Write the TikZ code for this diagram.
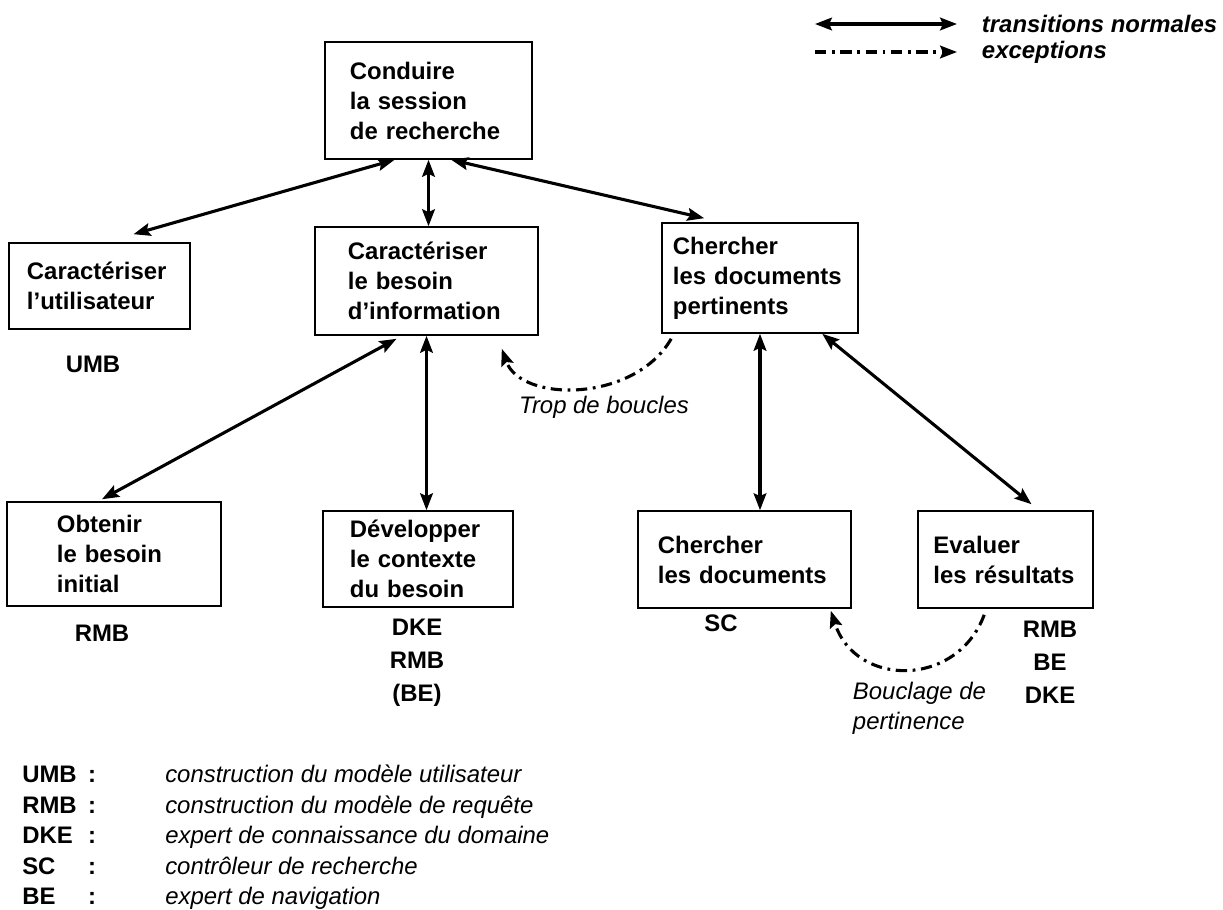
\documentclass[tikz,border=0pt]{standalone}
\usepackage{fontspec}
\setmainfont{Liberation Sans}
\usetikzlibrary{arrows.meta}

\begin{document}
\begin{tikzpicture}[x=0.025cm, y=-0.025cm,
  box/.style={draw, line width=1.1pt, align=left, inner sep=0pt,
    font=\fontsize{17}{21.3}\selectfont\bfseries},
  tag/.style={align=center, font=\fontsize{17}{23.4}\selectfont\bfseries},
  note/.style={align=left, font=\fontsize{17}{21.3}\selectfont\itshape},
  legend/.style={anchor=west, font=\fontsize{17}{21.3}\selectfont\bfseries\itshape},
  normal/.style={{Stealth[length=12pt,width=9pt,inset=2pt]}-{Stealth[length=12pt,width=9pt,inset=2pt]}, line width=2.2pt},
  excep/.style={-{Stealth[length=12pt,width=9pt,inset=2pt]}, line width=2.2pt,
    dash pattern=on 8pt off 4pt on 2pt off 4pt}]

  \useasboundingbox (0,0) rectangle (1223,909);

  % Boxes
  \node[box, minimum width=5.175cm, minimum height=2.925cm, text width=3.925cm] (conduire) at (428.5,100.5) {Conduire\\la session\\de recherche};
  \node[box, minimum width=4.525cm, minimum height=2.15cm, text width=3.625cm] (util) at (99.5,286) {Caractériser\\l’utilisateur};
  \node[box, minimum width=5.575cm, minimum height=2.7cm, text width=3.925cm] (besoin) at (426.5,281) {Caractériser\\le besoin\\d’information};
  \node[box, minimum width=4.9cm, minimum height=2.75cm, text width=4.35cm] (pertin) at (760,278) {Chercher\\les documents\\pertinents};
  \node[box, minimum width=5.35cm, minimum height=2.6cm, text width=2.85cm] (obtenir) at (114,554) {Obtenir\\le besoin\\initial};
  \node[box, minimum width=4.75cm, minimum height=2.4cm, text width=3.4cm] (develop) at (418,559) {Développer\\le contexte\\du besoin};
  \node[box, minimum width=5.325cm, minimum height=2.425cm, text width=4.325cm] (chdocs) at (744.5,559.5) {Chercher\\les documents};
  \node[box, minimum width=4.375cm, minimum height=2.425cm, text width=3.6cm] (evaluer) at (1005.5,559.5) {Evaluer\\les résultats};

  % Agents
  \node[tag] (umb) at (93,364) {UMB};
  \node[tag] (rmb) at (102,633) {RMB};
  \node[tag] (devtag) at (417,663) {DKE\\RMB\\(BE)};
  \node[tag] (sc) at (721,623) {SC};
  \node[tag] (evtag) at (1050,662) {RMB\\BE\\DKE};

  % Transitions
  \draw[normal] ([xshift=50]conduire.south west) -- ([shift={(34,-8)}]util.north);
  \draw[normal] (conduire.south) -- (conduire.south |- besoin.north);
  \draw[normal] ([xshift=-58]conduire.south east) -- ([shift={(43,-4)}]pertin.north west);
  \draw[normal] ([shift={(-30,3)}]besoin.south) -- ([shift={(-12,-2)}]obtenir.north);
  \draw[normal] (besoin.south) -- (besoin.south |- develop.north);
  \draw[normal] (pertin.south) -- (pertin.south |- chdocs.north);
  \draw[normal] ([xshift=-26]pertin.south east) -- ([shift={(26,-6)}]evaluer.north);

  % Exceptions
  \draw[excep] ([shift={(10,5)}]pertin.south west) .. controls +(-37,64) and +(19,54) .. ([shift={(-37,13)}]besoin.south east);
  \node[note] (trop) at (604,407) {Trop de boucles};
  \draw[excep] ([shift={(67,6)}]evaluer.south west) .. controls +(-27,73) and +(25,77) .. ([shift={(-21,2)}]chdocs.south east);
  \node[note, anchor=west] (boucl) at (848,708) {Bouclage de\\pertinence};

  % Legend
  \coordinate (n1) at (815,24);
  \coordinate (n2) at (957,24);
  \coordinate (e1) at (815,52);
  \coordinate (e2) at (957,52);
  \draw[normal] (n1) -- (n2);
  \draw[excep] (e1) -- (e2);
  \node[legend] (ltrans) at (977,24) {transitions normales};
  \node[legend] (lexcep) at (977,52) {exceptions};

  \foreach \abbr/\txt [count=\i] in {UMB/construction du modèle utilisateur,
      RMB/construction du modèle de requête,
      DKE/expert de connaissance du domaine,
      SC/contrôleur de recherche,
      BE/expert de navigation} {
    \node[tag, anchor=base west, inner sep=0pt] (ab\i) at (22,752+30.5*\i) {\abbr};
    \node[tag, anchor=base, inner sep=0pt] (col\i) at (92,752+30.5*\i) {:};
    \node[note, anchor=base west, inner sep=0pt] (tx\i) at (165,752+30.5*\i) {\txt};
  }
\end{tikzpicture}
\end{document}
